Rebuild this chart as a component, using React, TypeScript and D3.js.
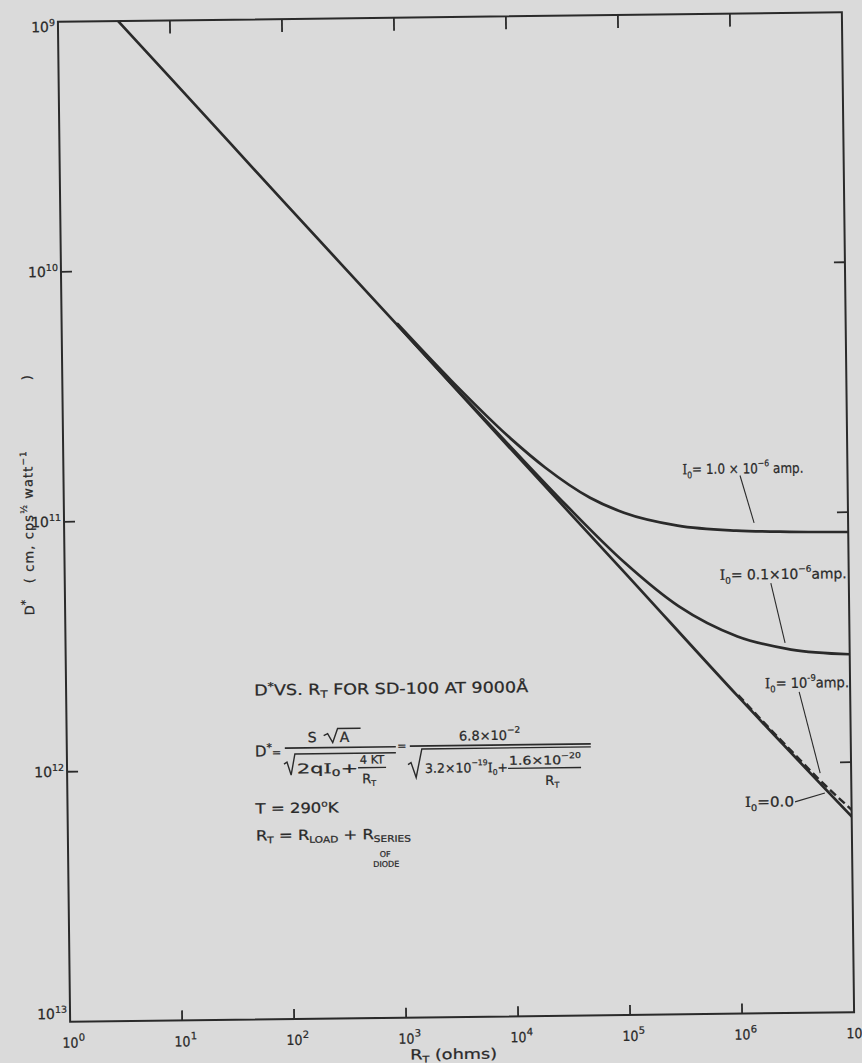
import React from 'react';
import * as d3 from 'd3';

// ---- tick data ----
const xTickValues = [1, 10, 100, 1e3, 1e4, 1e5, 1e6, 1e7];
const xTickExps = ['0', '1', '2', '3', '4', '5', '6', '7'];
const yTickValues = [1e9, 1e10, 1e11, 1e12, 1e13];
const yTickExps = ['9', '10', '11', '12', '13'];

// ---- series: R_T (ohms) vs D* ----
// I0 = 0.0
const rZero = [3.45, 10, 100, 1e3, 1e4, 1e5, 1e6, 1e7];
const dZero = [1e9, 1.7e9, 5.4e9, 1.7e10, 5.4e10, 1.7e11, 5.4e11, 1.65e12];
// I0 = 1.0 x 10^-6 amp
const rOneMicro = [1e3, 3e3, 1e4, 2e4, 5e4, 1e5, 3e5, 1e6, 3e6, 1e7];
const dOneMicro = [1.68e10, 2.86e10, 4.9e10, 6.4e10, 8.5e10, 9.8e10, 1.11e11, 1.17e11, 1.19e11, 1.2e11];
// I0 = 0.1 x 10^-6 amp
const rTenthMicro = [1e3, 3e3, 1e4, 3e4, 1e5, 3e5, 1e6, 3e6, 1e7];
const dTenthMicro = [1.7e10, 2.94e10, 5.3e10, 9.0e10, 1.55e11, 2.33e11, 3.1e11, 3.52e11, 3.7e11];
// I0 = 10^-9 amp (dashed)
const rNano = [1e6, 2e6, 3e6, 5e6, 1e7];
const dNano = [5.32e11, 7.46e11, 9.04e11, 1.15e12, 1.55e12];

const W = 862;
const H = 1063;
const X0 = 64, X1 = 848, Y0 = 17, Y1 = 1017;
const INK = '#2a2a2a';
const BG = '#dadada';
const FONT = '"DejaVu Sans", "Liberation Sans", sans-serif';
const SERIF = '"DejaVu Serif", serif';

const zip = (a: number[], b: number[]) => a.map((v, i) => [v, b[i]] as [number, number]);

export default function App() {
  const x = d3.scaleLog().domain([1, 1e7]).range([X0, X1]);
  const y = d3.scaleLog().domain([1e9, 1e13]).range([Y0, Y1]);
  const line = d3
    .line<[number, number]>()
    .x((d) => x(d[0]))
    .y((d) => y(d[1]))
    .curve(d3.curveMonotoneX);

  const textStyle = { whiteSpace: 'pre' as const };

  return (
    <svg
      width={W}
      height={H}
      style={{ position: 'absolute', left: 0, top: 0, fontFamily: FONT }}
    >
      <rect x={0} y={0} width={W} height={H} fill={BG} />
      <defs>
        <clipPath id="plot">
          <rect x={X0} y={Y0} width={X1 - X0} height={Y1 - Y0} />
        </clipPath>
      </defs>
      <g transform="rotate(-0.7 456 517)" fill={INK}>
        {/* frame */}
        <rect x={X0} y={Y0} width={X1 - X0} height={Y1 - Y0} fill="none" stroke={INK} strokeWidth={2} />
        {/* x ticks */}
        {xTickValues.slice(1, -1).map((t) => (
          <g key={'xt' + t}>
            <line x1={x(t)} x2={x(t)} y1={Y1} y2={Y1 - 10} stroke={INK} strokeWidth={1.8} />
            <line x1={x(t)} x2={x(t)} y1={Y0} y2={Y0 + 13} stroke={INK} strokeWidth={1.8} />
          </g>
        ))}
        {/* y ticks */}
        {yTickValues.slice(1, -1).map((t) => (
          <g key={'yt' + t}>
            <line x1={X0} x2={X0 + 11} y1={y(t)} y2={y(t)} stroke={INK} strokeWidth={1.8} />
            <line x1={X1} x2={X1 - 11} y1={y(t)} y2={y(t)} stroke={INK} strokeWidth={1.8} />
          </g>
        ))}

        <g stroke={INK} strokeWidth={0.25} style={textStyle}>
          {/* x tick labels */}
          {xTickValues.map((t, i) => (
            <g key={'xl' + t}>
              <text x={x(t) - 8} y={1043} fontSize={14} textLength={16} lengthAdjust="spacingAndGlyphs">10</text>
              <text x={x(t) + 8.5} y={1036} fontSize={10}>{xTickExps[i]}</text>
            </g>
          ))}
          {/* y tick labels */}
          {yTickValues.map((t, i) => {
            const base = i === 0 ? Y0 + 10 : i === yTickValues.length - 1 ? Y1 - 3 : y(t) + 5;
            return (
              <text key={'yl' + t} x={X0 - 3} y={base} fontSize={14} textAnchor="end">
                10<tspan dy={-6} fontSize={9.5}>{yTickExps[i]}</tspan>
              </text>
            );
          })}
          {/* axis titles */}
          <text x={447} y={1059} fontSize={14} textAnchor="middle" textLength={87} lengthAdjust="spacingAndGlyphs">
            R<tspan dy={3} fontSize={9}>T</tspan>
            <tspan dy={-3}>{'   (ohms)'}</tspan>
          </text>
          <g transform="translate(33,0) rotate(-90)" fontSize={13}>
            <text x={-610} y={0}>
              D<tspan dy={-5} fontSize={11}>*</tspan>
            </text>
            <text x={-578} y={0} textLength={132} lengthAdjust="spacing">
              {'( cm, cps'}
              <tspan dy={-6} fontSize={9}>½</tspan>
              <tspan dy={6}>{' watt'}</tspan>
              <tspan dy={-6} fontSize={9}>−1</tspan>
            </text>
            <text x={-375} y={0}>)</text>
          </g>

          {/* curve labels */}
          <g fontSize={14}>
            <text x={683} y={477} textLength={121} lengthAdjust="spacingAndGlyphs">
              <tspan fontFamily={SERIF}>I</tspan>
              <tspan dy={4} fontSize={9}>0</tspan>
              <tspan dy={-4}>{'= 1.0 × 10'}</tspan>
              <tspan dy={-7} fontSize={9}>−6</tspan>
              <tspan dy={7}>{' amp.'}</tspan>
            </text>
            <text x={719} y={583} textLength={127} lengthAdjust="spacingAndGlyphs">
              <tspan fontFamily={SERIF}>I</tspan>
              <tspan dy={4} fontSize={9}>0</tspan>
              <tspan dy={-4}>{'= 0.1×10'}</tspan>
              <tspan dy={-7} fontSize={9}>−6</tspan>
              <tspan dy={7}>{'amp.'}</tspan>
            </text>
            <text x={763} y={692} textLength={84} lengthAdjust="spacingAndGlyphs">
              <tspan fontFamily={SERIF}>I</tspan>
              <tspan dy={4} fontSize={9}>0</tspan>
              <tspan dy={-4}>{'= 10'}</tspan>
              <tspan dy={-7} fontSize={9}>-9</tspan>
              <tspan dy={7}>{'amp.'}</tspan>
            </text>
            <text x={741.5} y={810.5} textLength={49} lengthAdjust="spacingAndGlyphs">
              <tspan fontFamily={SERIF}>I</tspan>
              <tspan dy={4} fontSize={9}>0</tspan>
              <tspan dy={-4}>{'=0.0'}</tspan>
            </text>
          </g>

          {/* formula block */}
          <text x={252} y={693} fontSize={15} textLength={274} lengthAdjust="spacingAndGlyphs">
            D<tspan dy={-5} fontSize={11}>*</tspan>
            <tspan dy={5}>{'VS. R'}</tspan>
            <tspan dy={3} fontSize={10}>T</tspan>
            <tspan dy={-3}>{'  FOR  SD-100  AT  9000Å'}</tspan>
          </text>
          <text x={252} y={754} fontSize={15}>
            D<tspan dy={-5} fontSize={11}>*</tspan>
            <tspan dy={5} fontSize={11}>=</tspan>
          </text>
          <text x={305} y={740.5} fontSize={14}>S</text>
          <text x={337} y={740.5} fontSize={14}>A</text>
          <text x={294} y={771.5} fontSize={13.5} textLength={61} lengthAdjust="spacingAndGlyphs">
            2q<tspan fontFamily={SERIF}>I</tspan>
            <tspan dy={3} fontSize={9}>0</tspan>
            <tspan dy={-3}>+</tspan>
          </text>
          <text x={369} y={762.5} fontSize={11.5} textAnchor="middle">4 KT</text>
          <text x={366} y={782} fontSize={13} textAnchor="middle">
            R<tspan dy={3} fontSize={8}>T</tspan>
          </text>
          <text x={399} y={749} fontSize={11} textAnchor="middle">=</text>
          <text x={487} y={740.5} fontSize={13} textAnchor="middle">
            6.8×10<tspan dy={-7} fontSize={9}>−2</tspan>
          </text>
          <text x={422} y={772.5} fontSize={13} textLength={83} lengthAdjust="spacingAndGlyphs">
            3.2×10<tspan dy={-7} fontSize={8}>−19</tspan>
            <tspan dy={7} fontFamily={SERIF}>I</tspan>
            <tspan dy={3} fontSize={8}>0</tspan>
            <tspan dy={-3}>+</tspan>
          </text>
          <text x={506} y={765.5} fontSize={12} textLength={72} lengthAdjust="spacingAndGlyphs">
            1.6×10<tspan dy={-6} fontSize={8}>−20</tspan>
          </text>
          <text x={549} y={786} fontSize={13} textAnchor="middle">
            R<tspan dy={3} fontSize={8}>T</tspan>
          </text>
          <text x={252} y={811} fontSize={14} textLength={83} lengthAdjust="spacingAndGlyphs">
            {'T  = 290'}
            <tspan dy={-6} fontSize={9}>o</tspan>
            <tspan dy={6}>K</tspan>
          </text>
          <text x={252} y={838} fontSize={14} textLength={155} lengthAdjust="spacingAndGlyphs">
            R<tspan dy={3} fontSize={9}>T</tspan>
            <tspan dy={-3}>{' = R'}</tspan>
            <tspan dy={3} fontSize={9}>LOAD</tspan>
            <tspan dy={-3}>{' + R'}</tspan>
            <tspan dy={3} fontSize={9}>SERIES</tspan>
          </text>
          <text x={381} y={856} fontSize={8} textAnchor="middle">OF</text>
          <text x={382} y={866} fontSize={8} textAnchor="middle">DIODE</text>
        </g>

        {/* formula strokes */}
        <g fill="none" stroke={INK}>
          <path d="M 321 734 L 325 732 L 330 741 L 335 727 L 358 727" strokeWidth={1.4} />
          <line x1={282} x2={393} y1={746} y2={746} strokeWidth={1.7} />
          <path d="M 281 762 L 284 760 L 288 773 L 292 752 L 393 752" strokeWidth={1.4} />
          <line x1={355} x2={383} y1={766.5} y2={766.5} strokeWidth={1.4} />
          <line x1={407} x2={588} y1={745.5} y2={745.5} strokeWidth={1.7} />
          <path d="M 405 764 L 408 762 L 413 777 L 419 748.5 L 588 748.5" strokeWidth={1.4} />
          <line x1={505} x2={578} y1={769} y2={769} strokeWidth={1.4} />
        </g>

        {/* leaders */}
        <g stroke={INK} strokeWidth={1.1}>
          <line x1={740.5} y1={479} x2={754} y2={526.5} />
          <line x1={770} y1={587} x2={783.5} y2={647} />
          <line x1={797} y1={696} x2={817} y2={777.5} />
          <line x1={791.5} y1={806} x2={821.5} y2={797.5} />
        </g>

        {/* curves */}
        <g clipPath="url(#plot)" fill="none" stroke={INK} strokeLinecap="round">
          <path d={line(zip(rZero, dZero)) || ''} strokeWidth={2.7} />
          <path d={line(zip(rOneMicro, dOneMicro)) || ''} strokeWidth={2.7} />
          <path d={line(zip(rTenthMicro, dTenthMicro)) || ''} strokeWidth={2.7} />
          <path d={line(zip(rNano, dNano)) || ''} strokeWidth={2.4} strokeDasharray="8 4" strokeLinecap="butt" />
        </g>
      </g>
    </svg>
  );
}
